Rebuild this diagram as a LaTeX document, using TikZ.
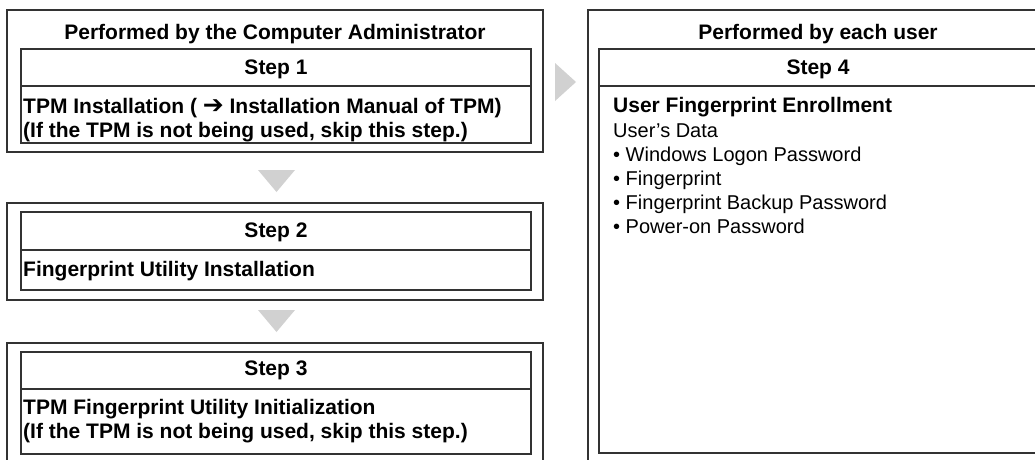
\documentclass[tikz,border=0pt]{standalone}
\usepackage{fontspec}
\setmainfont{Liberation Sans}
\newfontfamily\symfnt{DejaVu Sans}
\begin{document}
\begin{tikzpicture}[x=1pt,y=-1pt,
  frame/.style={draw=black!80, line width=1.4pt, inner sep=0pt, outer sep=0pt, anchor=north west},
  sepline/.style={draw=black!80, line width=1.2pt},
  tri/.style={fill=black!18, draw=none},
  bt/.style={font=\fontsize{21}{24}\selectfont\bfseries, inner sep=0pt, anchor=base},
  btl/.style={font=\fontsize{21}{24}\selectfont\bfseries, inner sep=0pt, anchor=base west},
  rtl/.style={font=\fontsize{20}{24}\selectfont, inner sep=0pt, anchor=base west}]
\useasboundingbox (0,0) rectangle (1035,459);
\clip (0,0) rectangle (1035,459);
\fill[white] (0,0) rectangle (1035,459);
% left column
\node[frame, minimum width=536pt, minimum height=142pt] (o1) at (7,10) {};
\node[frame, minimum width=510pt, minimum height=94pt] (i1) at (21,49) {};
\coordinate (s1a) at (21,86); \coordinate (s1b) at (531,86);
\draw[sepline] (s1a) -- (s1b);
\node[bt] (t1) at (275,39) {Performed by the Computer Administrator};
\node[bt] (st1) at (276,74.5) {Step 1};
\node[btl] (b1a) at (23,113) {TPM Installation ( {\symfnt\bfseries\fontsize{25}{26}\selectfont\raisebox{-0.5pt}{➔}} Installation Manual of TPM)};
\node[btl] (b1b) at (23,137) {(If the TPM is not being used, skip this step.)};
%
\coordinate (d1a) at (258,170); \coordinate (d1b) at (295,170); \coordinate (d1c) at (276.5,192);
\fill[tri] (d1a) -- (d1b) -- (d1c) -- cycle;
%
\node[frame, minimum width=536pt, minimum height=97pt] (o2) at (7,203) {};
\node[frame, minimum width=510pt, minimum height=78pt] (i2) at (21,212) {};
\coordinate (s2a) at (21,250); \coordinate (s2b) at (531,250);
\draw[sepline] (s2a) -- (s2b);
\node[bt] (st2) at (276,237.5) {Step 2};
\node[btl] (b2a) at (23,276) {Fingerprint Utility Installation};
%
\coordinate (d2a) at (258,310); \coordinate (d2b) at (295,310); \coordinate (d2c) at (276.5,332);
\fill[tri] (d2a) -- (d2b) -- (d2c) -- cycle;
%
\node[frame, minimum width=536pt, minimum height=130pt] (o3) at (7,343) {};
\node[frame, minimum width=510pt, minimum height=102pt] (i3) at (21,352) {};
\coordinate (s3a) at (21,389); \coordinate (s3b) at (531,389);
\draw[sepline] (s3a) -- (s3b);
\node[bt] (st3) at (276,375.5) {Step 3};
\node[btl] (b3a) at (23,414) {TPM Fingerprint Utility Initialization};
\node[btl] (b3b) at (23,438) {(If the TPM is not being used, skip this step.)};
% right arrow
\coordinate (ra) at (555,63); \coordinate (rb) at (555,101); \coordinate (rc) at (576,82);
\fill[tri] (ra) -- (rb) -- (rc) -- cycle;
% right column
\node[frame, minimum width=460pt, minimum height=470pt] (o4) at (588,10) {};
\node[frame, minimum width=438pt, minimum height=404pt] (i4) at (599,49) {};
\coordinate (s4a) at (599,86); \coordinate (s4b) at (1037,86);
\draw[sepline] (s4a) -- (s4b);
\node[bt] (t4) at (818,39) {Performed by each user};
\node[bt] (st4) at (818,74.5) {Step 4};
\node[btl] (u1) at (613,112.5) {User Fingerprint Enrollment};
\node[rtl] (u2) at (613,137) {User’s Data};
\node[rtl] (u3) at (613,161) {• Windows Logon Password};
\node[rtl] (u4) at (613,185) {• Fingerprint};
\node[rtl] (u5) at (613,209) {• Fingerprint Backup Password};
\node[rtl] (u6) at (613,233) {• Power-on Password};
\end{tikzpicture}
\end{document}
